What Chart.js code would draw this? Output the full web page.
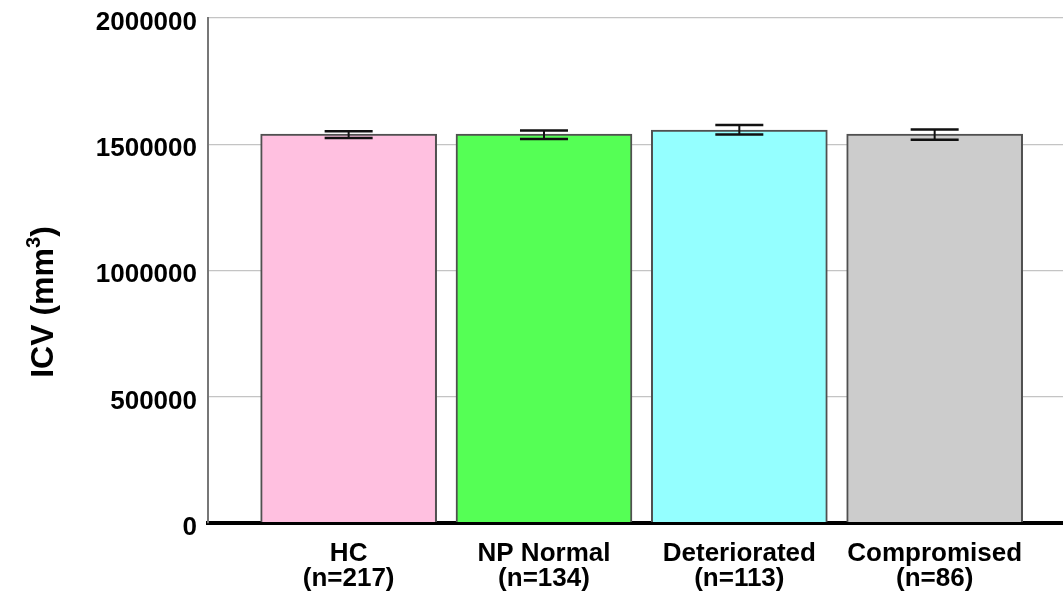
<!DOCTYPE html>
<html>
<head>
<meta charset="utf-8">
<script src="https://cdn.jsdelivr.net/npm/chart.js@4/dist/chart.umd.min.js"></script>
<style>
  html, body { margin: 0; padding: 0; background: #fff; overflow: hidden; }
  #wrap { width: 1063px; height: 597px; position: relative; }
</style>
</head>
<body>
<div id="wrap"><canvas id="icv"></canvas></div>
<script>
// Groups, sample sizes, mean ICV and 95% CI bounds (mm³)
const categories = ['HC', 'NP Normal', 'Deteriorated', 'Compromised'];
const counts = [217, 134, 113, 86];
const means = [1540000, 1540000, 1556000, 1540000];
const ciLow = [1524000, 1520000, 1538000, 1517000];
const ciHigh = [1551000, 1554000, 1576000, 1558000];
const barColors = ['#FFC0E0', '#55FF55', '#94FFFF', '#CCCCCC'];
const yTicks = [0, 500000, 1000000, 1500000, 2000000];

const FONT = "'Liberation Sans', Arial, sans-serif";

// Whiskers for the confidence intervals, placed through the chart scales
const errorBars = {
  id: 'errorBars',
  afterDatasetsDraw(chart) {
    const xs = chart.scales.x, ys = chart.scales.y, ctx = chart.ctx;
    ctx.save();
    ctx.strokeStyle = '#111';
    ctx.lineCap = 'butt';
    means.forEach((m, i) => {
      const x = xs.getPixelForValue(i + 1);
      const yl = ys.getPixelForValue(ciLow[i]);
      const yh = ys.getPixelForValue(ciHigh[i]);
      const half = 24;
      ctx.lineWidth = 2;
      ctx.beginPath();
      ctx.moveTo(x, yl); ctx.lineTo(x, yh);
      ctx.stroke();
      ctx.lineWidth = 2.5;
      ctx.beginPath();
      ctx.moveTo(x - half, yl); ctx.lineTo(x + half, yl);
      ctx.moveTo(x - half, yh); ctx.lineTo(x + half, yh);
      ctx.stroke();
    });
    ctx.restore();
  }
};

// Vertical axis title with superscript, centred on the full canvas height
const yTitle = {
  id: 'yTitle',
  afterDraw(chart) {
    const ctx = chart.ctx;
    ctx.save();
    ctx.translate(44, 302);
    ctx.rotate(-Math.PI / 2);
    ctx.fillStyle = '#000';
    ctx.textBaseline = 'middle';
    const main = 'ICV (mm';
    const big = 'bold 32px ' + FONT;
    const small = 'bold 20px ' + FONT;
    ctx.font = big;
    const w1 = ctx.measureText(main).width;
    ctx.font = small;
    const w2 = ctx.measureText('3').width;
    ctx.font = big;
    const w3 = ctx.measureText(')').width;
    let x = -(w1 + w2 + w3) / 2;
    ctx.textAlign = 'left';
    ctx.fillText(main, x, 0);
    x += w1;
    ctx.font = small;
    ctx.fillText('3', x, -10);
    x += w2;
    ctx.font = big;
    ctx.fillText(')', x, 0);
    ctx.restore();
  }
};

new Chart(document.getElementById('icv'), {
  type: 'bar',
  data: {
    datasets: [{
      data: means.map((v, i) => ({ x: i + 1, y: v })),
      backgroundColor: barColors,
      borderColor: '#505050',
      borderWidth: 2,
      borderSkipped: 'bottom',
      barThickness: 176
    }]
  },
  options: {
    responsive: true,
    maintainAspectRatio: false,
    animation: false,
    layout: { padding: { top: 18, right: 0, left: 0, bottom: 0 } },
    plugins: { legend: { display: false }, tooltip: { enabled: false } },
    scales: {
      x: {
        type: 'linear',
        offset: false,
        min: 0.28,
        max: 4.657,
        grid: { display: false },
        border: { display: true, color: '#000', width: 4 },
        afterBuildTicks(scale) {
          scale.ticks = categories.map((c, i) => ({ value: i + 1 }));
        },
        afterFit(scale) {
          scale.height = 74.5;
          scale.paddingLeft = 0;
          scale.paddingRight = 0;
        },
        ticks: {
          color: '#000',
          padding: 11,
          maxRotation: 0,
          autoSkip: false,
          font: { family: FONT, size: 26, weight: 'bold', lineHeight: 0.96 },
          callback: (v) => [categories[v - 1], '(n=' + counts[v - 1] + ')']
        }
      },
      y: {
        min: 0,
        max: 2000000,
        afterBuildTicks(scale) {
          scale.ticks = yTicks.map(v => ({ value: v }));
        },
        afterFit(scale) {
          scale.width = 208;
          scale.paddingTop = 0;
          scale.paddingBottom = 0;
        },
        grid: { color: '#c4c4c4', lineWidth: 1.2, drawTicks: false },
        border: { display: true, color: '#777', width: 2 },
        ticks: {
          color: '#000',
          padding: 11,
          labelOffset: 5,
          font: { family: FONT, size: 26, weight: 'bold' },
          callback: (v) => String(v)
        }
      }
    }
  },
  plugins: [errorBars, yTitle]
});
</script>
</body>
</html>
